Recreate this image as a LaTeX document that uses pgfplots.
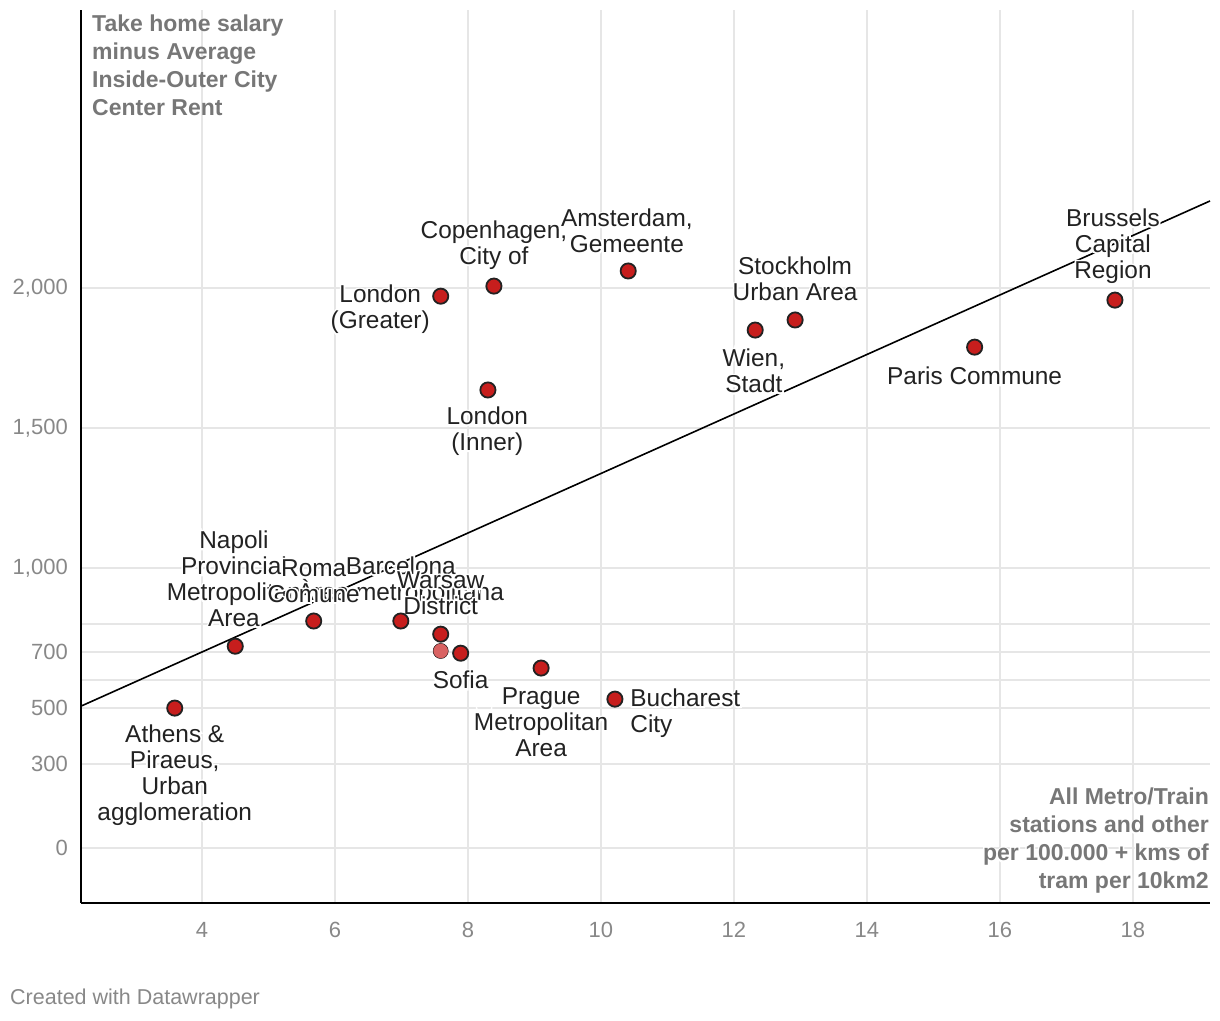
\documentclass[border=0pt]{standalone}
\usepackage{pgfplots}
\pgfplotsset{compat=1.18}
\usepackage{fontspec}
\setmainfont{Liberation Sans}
% white stroked copy under each label, as a halo
\newfontfamily\halofont[FakeBold=14]{Liberation Sans}

\definecolor{dwred}{HTML}{C71E1D}
\definecolor{dwlight}{HTML}{D96262}
\definecolor{gridgray}{HTML}{E6E6E6}
\definecolor{ticktext}{HTML}{888888}
\definecolor{titletext}{HTML}{777777}
\definecolor{labeltext}{HTML}{222222}

\newcommand{\hl}[1]{\leavevmode\rlap{\halofont\color{white}#1}#1}

% points
\pgfplotstableread{
x     y
3.59  500
4.50  721
5.68  811
6.99  811
7.59  764
7.89  696
7.59  1971
8.39  2007
8.30  1636
10.41 2061
12.32 1850
12.92 1886
15.62 1789
17.73 1957
9.10  643
10.21 532
}\cities

\begin{document}
\begin{tikzpicture}[x=1pt,y=1pt]
\useasboundingbox (0,0) rectangle (1220,1020);
\begin{axis}[
  at={(81pt,117pt)}, anchor=south west,
  scale only axis, width=1129pt, height=893pt,
  xmin=2.18, xmax=19.16, ymin=-196, ymax=2993,
  axis x line=bottom, axis y line=left,
  axis line style={-, line width=2pt, black},
  xtick={4,6,...,18},
  ytick={0,300,500,700,1000,1500,2000},
  minor ytick={600,800},
  major tick length=0, minor tick length=0,
  grid=both,
  major grid style={gridgray, line width=2pt},
  minor grid style={gridgray, line width=2pt},
  /pgf/number format/assume math mode=true,
  tick label style={font=\fontsize{22}{26}\selectfont, text=ticktext, inner sep=0pt},
  yticklabel style={anchor=east, xshift=-13pt},
  xticklabel style={anchor=north, yshift=-19pt},
  clip=false,
]
\addplot[black, line width=1.6pt, no marks] coordinates {(2.18,507) (19.16,2311)};
\addplot[only marks, mark=*, mark size=7.6pt, draw=none, fill=dwlight] coordinates {(7.59,704)};
\addplot[only marks, mark=*, mark size=7.6pt,
  mark options={fill=dwred, draw=labeltext, line width=1.8pt}] table[x=x,y=y] {\cities};

\begin{scope}[every node/.style={align=center, text=labeltext, inner sep=0pt,
    font=\fontsize{24.4}{26}\selectfont}]
\node at (axis cs:3.59,261) {\hl{Athens \&}\\\hl{Piraeus,}\\\hl{Urban}\\\hl{agglomeration}};
\node at (axis cs:4.48,961) {\hl{Napoli}\\\hl{Provincial}\\\hl{Metropolitan}\\\hl{Area}};
\node at (axis cs:6.99,954) {\hl{Barcelona}\\\hl{Àrea metropolitana}};
\node at (axis cs:5.68,954) {\hl{Roma}\\\hl{Comune}};
\node at (axis cs:7.59,911) {\hl{Warsaw}\\\hl{District}};
\node at (axis cs:7.89,600) {\hl{Sofia}};
\node at (axis cs:9.10,450) {\hl{Prague}\\\hl{Metropolitan}\\\hl{Area}};
\node[anchor=west, align=left] at (axis cs:10.44,482) {\hl{Bucharest}\\\hl{City}};
\node at (axis cs:6.68,1925) {\hl{London}\\\hl{(Greater)}};
\node at (axis cs:8.39,2154) {\hl{Copenhagen,}\\\hl{City of}};
\node at (axis cs:8.29,1489) {\hl{London}\\\hl{(Inner)}};
\node at (axis cs:10.39,2204) {\hl{Amsterdam,}\\\hl{Gemeente}};
\node at (axis cs:12.92,2032) {\hl{Stockholm}\\\hl{Urban Area}};
\node at (axis cs:12.30,1704) {\hl{Wien,}\\\hl{Stadt}};
\node at (axis cs:15.62,1686) {\hl{Paris Commune}};
\node at (axis cs:17.70,2150) {\hl{Brussels}\\\hl{Capital}\\\hl{Region}};
\end{scope}
\end{axis}

\node[anchor=north west, align=left, inner sep=0pt, text=titletext,
  font=\fontsize{23}{28}\selectfont\bfseries] at (92,1005)
  {Take home salary\\minus Average\\Inside-Outer City\\Center Rent};
\node[anchor=north east, align=right, inner sep=0pt, text=titletext,
  font=\fontsize{23}{28}\selectfont\bfseries] at (1209,232)
  {\hl{All Metro/Train}\\\hl{stations and other}\\\hl{per 100.000 + kms of}\\\hl{tram per 10km2}};
\node[anchor=west, inner sep=0pt, text=ticktext, font=\fontsize{21.5}{24}\selectfont]
  at (10,21) {Created with Datawrapper};
\end{tikzpicture}
\end{document}
